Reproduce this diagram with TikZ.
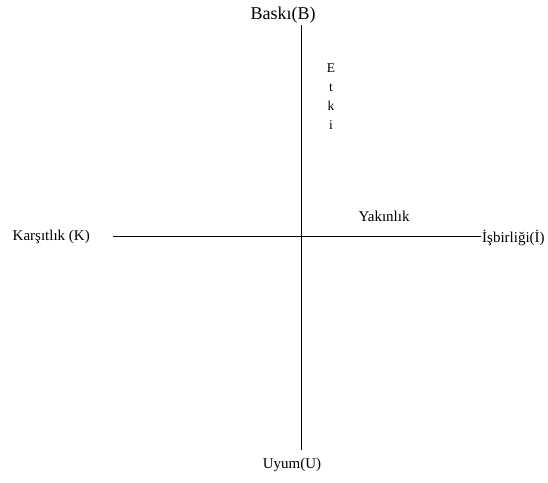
\documentclass[tikz,border=0pt]{standalone}
\usepackage{fontspec}
\setmainfont{Liberation Serif}
\begin{document}
\begin{tikzpicture}[x=1pt,y=-1pt,
  lbl/.style={inner sep=0pt,font=\fontsize{15}{17}\selectfont},
  axis/.style={line width=1pt,black}]
\useasboundingbox (0,0) rectangle (548,482);
\coordinate (top) at (301.5,25);
\coordinate (bot) at (301.5,450);
\coordinate (lft) at (113,236.5);
\coordinate (rgt) at (481,236.5);
\draw[axis] (top) -- (bot);
\draw[axis] (lft) -- (rgt);
\node[lbl,font=\fontsize{18}{20}\selectfont] (B) at (283,15) {Baskı(B)};
\node[lbl,anchor=east] (K) at (90,237) {Karşıtlık (K)};
\node[lbl,anchor=west] (I) at (482,238) {İşbirliği(İ)};
\node[lbl] (Y) at (384,216) {Yakınlık};
\node[lbl] (U) at (292,465) {Uyum(U)};
\node[lbl,font=\fontsize{13.5}{19}\selectfont,align=center,anchor=north] (E) at (331,63) {E\\t\\k\\i};
\end{tikzpicture}
\end{document}
